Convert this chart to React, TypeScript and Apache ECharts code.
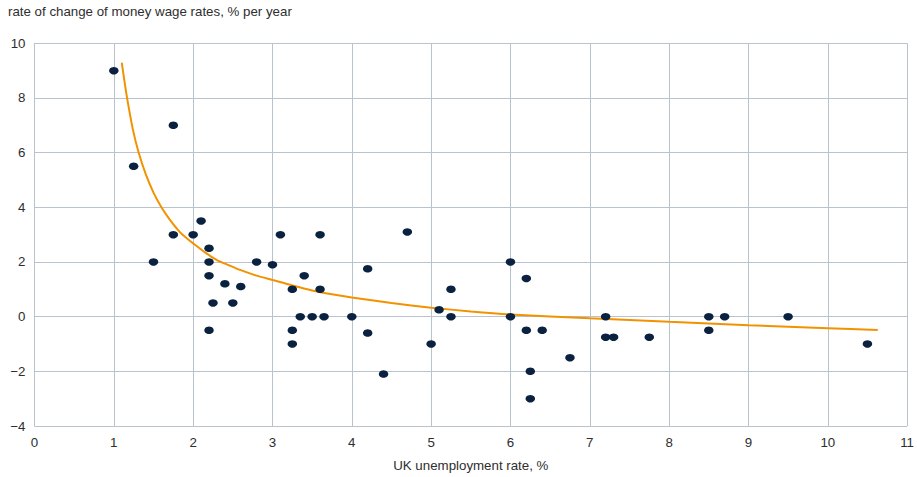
import React, { useEffect, useRef } from "react";
import * as echarts from "echarts";

// Observed points: [UK unemployment rate %, rate of change of money wage rates %]
const pointsX = [
  1, 1.25, 1.75, 1.75, 1.5, 2, 2.1, 2.2, 2.2, 2.2, 2.2, 2.25, 2.4, 2.5, 2.6, 2.8, 3, 3.1,
  3.25, 3.25, 3.25, 3.35, 3.4, 3.5, 3.6, 3.6, 3.65, 4, 4.2, 4.2, 4.4, 4.7, 5, 5.1, 5.25,
  5.25, 6, 6, 6.2, 6.2, 6.25, 6.25, 6.4, 6.75, 7.2, 7.2, 7.3, 7.75, 8.5, 8.5, 8.7, 9.5, 10.5,
];
const pointsY = [
  9, 5.5, 7, 3, 2, 3, 3.5, 2.5, 2, 1.5, -0.5, 0.5, 1.2, 0.5, 1.1, 2, 1.9, 3,
  1, -0.5, -1, 0, 1.5, 0, 3, 1, 0, 0, 1.75, -0.6, -2.1, 3.1, -1, 0.25, 1,
  0, 2, 0, 1.4, -0.5, -2, -3, -0.5, -1.5, 0, -0.75, -0.75, -0.75, 0, -0.5, 0, 0, -1,
];

// Fitted curve
const curveX = [
  1.1, 1.14, 1.17, 1.24, 1.31, 1.4, 1.5, 1.6, 1.7, 1.83, 1.9, 2.0, 2.15, 2.3, 2.45, 2.6, 2.8,
  3.0, 3.25, 3.5, 3.75, 4.0, 4.5, 5.0, 5.5, 6.0, 7.0, 8.0, 9.0, 10.0, 10.63,
];
const curveY = [
  9.29, 8.5, 7.95, 6.85, 6.03, 5.23, 4.54, 4.0, 3.57, 3.1, 2.91, 2.68, 2.35, 2.07, 1.88, 1.7, 1.5,
  1.34, 1.14, 0.96, 0.82, 0.7, 0.5, 0.33, 0.19, 0.08, -0.06, -0.19, -0.31, -0.42, -0.49,
];

const title = "rate of change of money wage rates, % per year";
const xTitle = "UK unemployment rate, %";

export default function App() {
  const ref = useRef<HTMLDivElement>(null);
  useEffect(() => {
    if (!ref.current) return;
    const chart = echarts.init(ref.current, undefined, { renderer: "svg" });
    const gridColor = "#b9c3cd";
    const textColor = "#2e2e2e";
    const font = "'Liberation Sans', Arial, sans-serif";
    chart.setOption({
      animation: false,
      textStyle: { fontFamily: font },
      title: {
        text: title,
        left: 8,
        top: 5,
        padding: 0,
        textStyle: { fontSize: 13.3, fontWeight: "normal", color: textColor, fontFamily: font },
      },
      grid: { left: 34.5, top: 43.3, right: 7.7, bottom: 51, containLabel: false },
      xAxis: {
        type: "value",
        min: 0,
        max: 11,
        interval: 1,
        name: xTitle,
        nameLocation: "middle",
        nameGap: 33,
        nameTextStyle: { fontSize: 13.3, color: textColor, fontFamily: font },
        axisLine: { show: true, lineStyle: { color: gridColor, width: 1 } },
        axisTick: { show: true, length: 4, lineStyle: { color: gridColor } },
        axisLabel: { margin: 10, fontSize: 13.3, color: textColor, fontFamily: font },
        splitLine: { show: true, lineStyle: { color: gridColor, width: 1 } },
      },
      yAxis: {
        type: "value",
        min: -4,
        max: 10,
        interval: 2,
        axisLine: { show: true, lineStyle: { color: gridColor, width: 1 } },
        axisTick: { show: false },
        axisLabel: {
          margin: 9,
          fontSize: 13.3,
          color: textColor,
          fontFamily: font,
          formatter: (v: number) => (v < 0 ? "\u2212" + Math.abs(v) : String(v)),
        },
        splitLine: { show: true, lineStyle: { color: gridColor, width: 1 } },
      },
      series: [
        {
          type: "line",
          data: curveX.map((x, i) => [x, curveY[i]]),
          smooth: 0.25,
          showSymbol: false,
          lineStyle: { color: "#f39200", width: 2 },
          z: 2,
        },
        {
          type: "scatter",
          data: pointsX.map((x, i) => [x, pointsY[i]]),
          symbol: "circle",
          symbolSize: [9.5, 7.5],
          itemStyle: { color: "#0a2240", opacity: 1 },
          z: 3,
        },
      ],
    });
    return () => chart.dispose();
  }, []);
  return (
    <div
      ref={ref}
      style={{ position: "absolute", left: 0, top: 0, width: 917, height: 477 }}
    />
  );
}
